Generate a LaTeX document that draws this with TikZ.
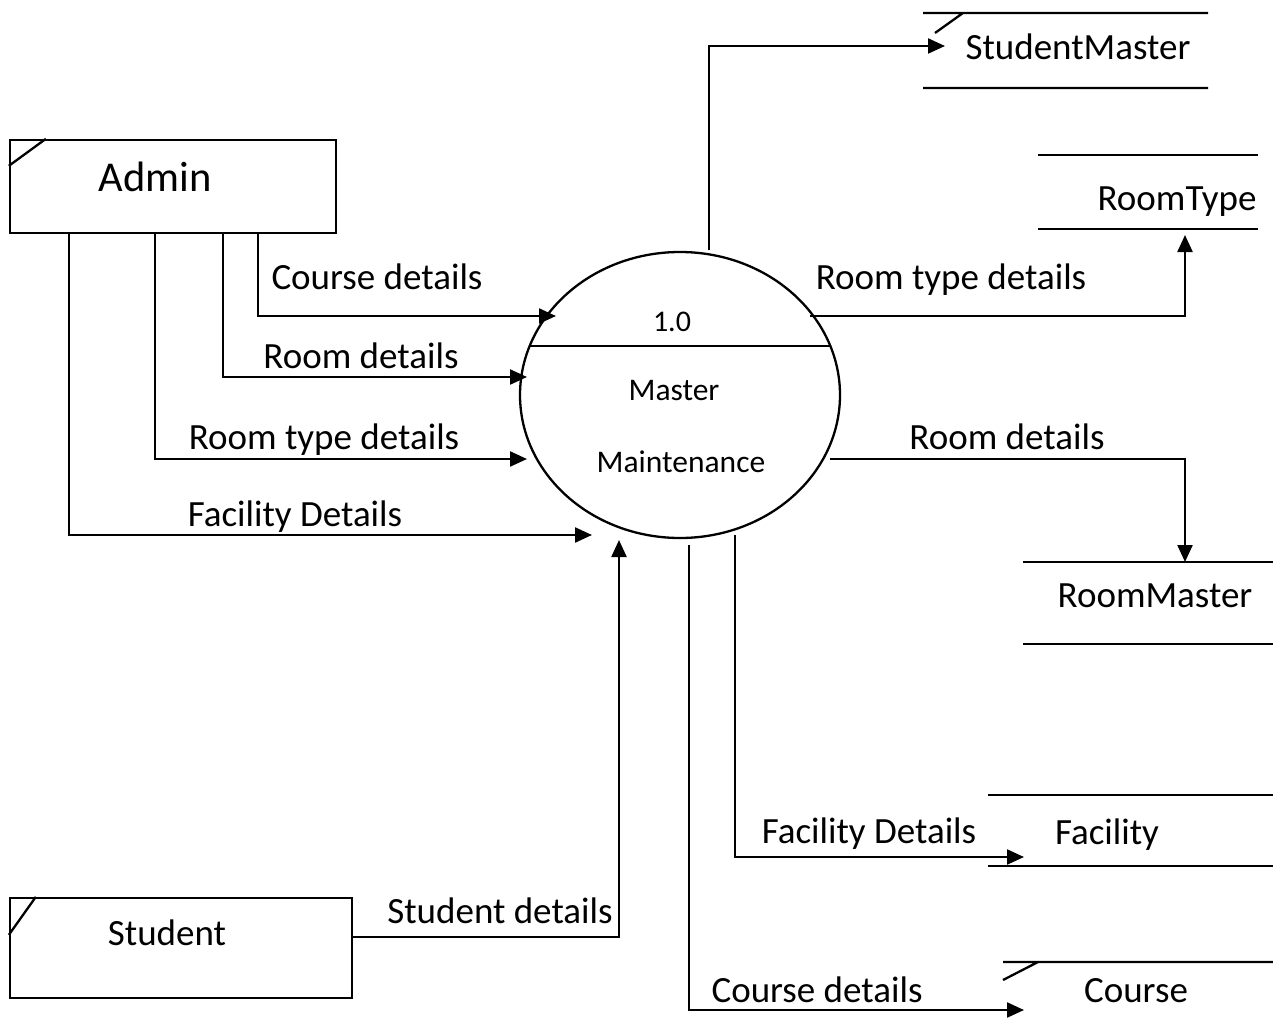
\documentclass[tikz,border=0pt]{standalone}
\usepackage{fontspec}
\setmainfont{Carlito}
\usetikzlibrary{arrows.meta,shapes.geometric}
\begin{document}
\begin{tikzpicture}[x=1pt,y=-1pt,line width=2.3pt,
  flow/.style={-{Triangle[length=17pt,width=15pt]}},
  txt/.style={inner sep=0pt,font=\fontsize{37}{44}\selectfont,text height=24pt,text depth=0pt},
  ptxt/.style={inner sep=0pt,font=\fontsize{31.5}{38}\selectfont,text height=20pt,text depth=0pt},
  ent/.style={draw,inner sep=0pt}]
\useasboundingbox (0,0) rectangle (1273,1035);
% external entities
\node[ent,minimum width=326pt,minimum height=93pt] (admin) at (173,186.5) {};
\draw ([yshift=-27pt]admin.north west) -- ([xshift=37pt]admin.north west);
\node[inner sep=0pt,font=\fontsize{42.5}{50}\selectfont,text height=27pt,text depth=0pt] (admint) at (155,178) {Admin};
\node[ent,minimum width=342pt,minimum height=100pt] (student) at (181,948) {};
\draw ([yshift=-38pt]student.north west) -- ([xshift=27pt]student.north west);
\node[txt] (studentt) at (167,933) {Student};
% process
\node[draw,ellipse,minimum width=320pt,minimum height=286pt,inner sep=0pt] (proc) at (680,395) {};
\draw ([xshift=-150pt,yshift=49pt]proc.center) -- ([xshift=150pt,yshift=49pt]proc.center);
\node[inner sep=0pt,font=\fontsize{30}{36}\selectfont,text height=19pt,text depth=0pt] (pid) at (672,322) {1.0};
\node[ptxt] (pm1) at (674,390) {Master};
\node[ptxt] (pm2) at (681,462) {Maintenance};
% data stores
\draw (923,13) -- (1208,13) (923,88) -- (1208,88) (935,33) -- (963,13);
\node[txt] (sm) at (1078,48) {StudentMaster};
\draw (1038,155) -- (1258,155) (1038,229) -- (1258,229);
\node[txt] (rt) at (1177,198) {RoomType};
\draw (1023,562) -- (1273,562) (1023,644) -- (1273,644);
\node[txt] (rm) at (1155,595) {RoomMaster};
\draw (988,795) -- (1273,795) (988,866) -- (1273,866);
\node[txt] (fac) at (1107,832) {Facility};
\draw (1003,962) -- (1273,962) (1003,980) -- (1038,962);
\node[txt] (crs) at (1136,990) {Course};
% coordinates
\coordinate (t1) at (556,316);
\coordinate (t2) at (527,377);
\coordinate (t3) at (527,459);
\coordinate (t4) at (592,535);
\coordinate (t5) at (619,540);
\coordinate (s6) at (709,250);
\coordinate (t6) at (945,46);
\coordinate (s7) at (810,316);
\coordinate (t7) at (1185,235);
\coordinate (s8) at (830,459);
\coordinate (t8) at (1185,562);
\coordinate (s9) at (735,535);
\coordinate (t9) at (1024,857);
\coordinate (s10) at (689,545);
\coordinate (t10) at (1024,1010);
% flows
\draw[flow] ([xshift=249pt]admin.south west) |- (t1);
\draw[flow] ([xshift=214pt]admin.south west) |- (t2);
\draw[flow] ([xshift=146pt]admin.south west) |- (t3);
\draw[flow] ([xshift=60pt]admin.south west) |- (t4);
\draw[flow] ([yshift=11pt]student.east) -| (t5);
\draw[flow] (s6) |- (t6);
\draw[flow] (s7) -| (t7);
\draw[flow] (s8) -| (t8);
\draw[flow] (s9) |- (t9);
\draw[flow] (s10) |- (t10);
% labels
\node[txt] (l1) at (377,277) {Course details};
\node[txt] (l2) at (361,356) {Room details};
\node[txt] (l3) at (324,437) {Room type details};
\node[txt] (l4) at (295,514) {Facility Details};
\node[txt] (l5) at (500,911) {Student details};
\node[txt] (l7) at (951,277) {Room type details};
\node[txt] (l8) at (1007,437) {Room details};
\node[txt] (l9) at (869,831) {Facility Details};
\node[txt] (l10) at (817,990) {Course details};
\end{tikzpicture}
\end{document}
